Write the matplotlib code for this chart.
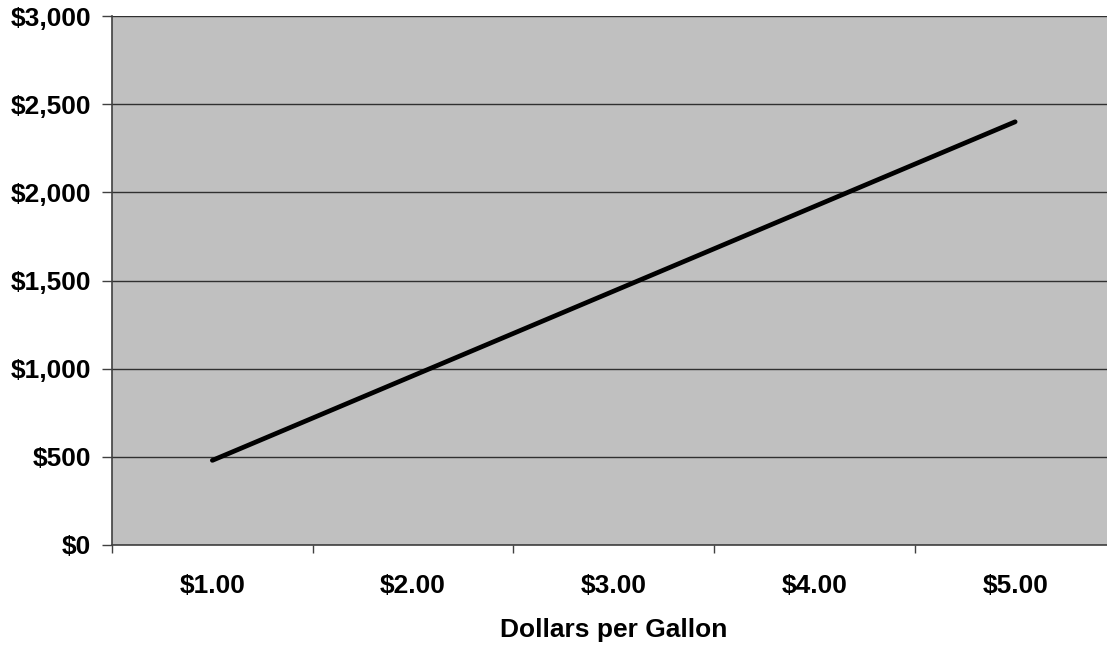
import matplotlib
matplotlib.use("Agg")
import matplotlib.pyplot as plt
from matplotlib.ticker import FixedLocator, NullFormatter, FuncFormatter

# Annual fuel cost at each gas price
prices = ["$1.00", "$2.00", "$3.00", "$4.00", "$5.00"]
annual_cost = [480, 960, 1440, 1920, 2400]
y_ticks = [0, 500, 1000, 1500, 2000, 2500, 3000]

W, H = 1107, 650
fig = plt.figure(figsize=(W / 100, H / 100), dpi=100)
plt.rcParams["font.family"] = ["Liberation Sans", "DejaVu Sans"]

# plot area in pixel coordinates (extends slightly past the right edge)
left, right, top, bottom = 112, 1115.5, 16, 545
ax = fig.add_axes([left / W, 1 - bottom / H, (right - left) / W, (bottom - top) / H])
ax.set_facecolor("#C0C0C0")

x = list(range(len(prices)))
ax.plot(x, annual_cost, color="black", lw=3.4, solid_capstyle="round", zorder=3)

ax.set_xlim(-0.5, len(prices) - 0.5)
ax.set_ylim(0, 3000)

# horizontal gridlines
ax.yaxis.set_major_locator(FixedLocator(y_ticks))
ax.yaxis.set_major_formatter(FuncFormatter(lambda v, p: f"${v:,.0f}"))
ax.grid(axis="y", color="#303030", lw=1.0, zorder=1)

# category ticks between groups, labels centered in groups
ax.xaxis.set_major_locator(FixedLocator([i - 0.5 for i in range(len(prices) + 1)]))
ax.xaxis.set_major_formatter(NullFormatter())
ax.xaxis.set_minor_locator(FixedLocator(x))
ax.set_xticklabels(prices, minor=True)
ax.tick_params(axis="x", which="major", direction="out", length=6, width=1, color="#404040")
ax.tick_params(axis="x", which="minor", length=0, pad=21)
ax.tick_params(axis="y", direction="out", length=7, width=1, color="#404040", pad=8)

for lab in ax.get_xticklabels(minor=True) + ax.get_yticklabels():
    lab.set_fontsize(19)
    lab.set_fontweight("bold")

for s in ("top", "right"):
    ax.spines[s].set_visible(False)
for s in ("left", "bottom"):
    ax.spines[s].set_color("#404040")
    ax.spines[s].set_linewidth(1.2)

fig.text(614 / W, 1 - 630 / H, "Dollars per Gallon", ha="center", va="center",
         fontsize=19, fontweight="bold")

fig.savefig("out.png", dpi=100)
